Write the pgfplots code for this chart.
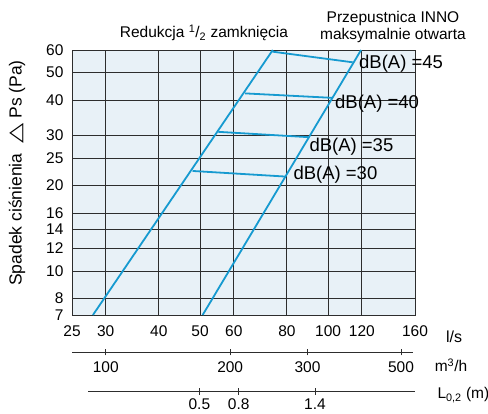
\documentclass[border=0pt]{standalone}
\usepackage{pgfplots}
\pgfplotsset{compat=1.18}
\usepackage{graphicx}
\usepackage{fontspec}
\setmainfont{Liberation Sans}
\newfontfamily\dejavu{DejaVu Sans}
\definecolor{bgblue}{RGB}{232,241,247}
\definecolor{lineblue}{RGB}{22,154,208}
\definecolor{gridc}{RGB}{45,45,45}
\begin{document}
\begin{tikzpicture}[x=1pt,y=1pt]
\path[use as bounding box] (0,0) rectangle (488,414);
\begin{axis}[
  at={(72pt,99pt)}, anchor=south west,
  scale only axis, width=343pt, height=265pt,
  xmode=log, ymode=log,
  xmin=25, xmax=160, ymin=7, ymax=60,
  axis background/.style={fill=bgblue},
  xtick={25,30,40,50,60,80,100,120,160},
  xticklabels={25,30,40,50,60,80,100,120,160},
  ytick={7,8,10,12,14,16,20,25,30,40,50,60},
  yticklabels={7,8,10,12,14,16,20,25,30,40,50,60},
  grid=major,
  major grid style={gridc, line width=0.9pt},
  axis line style={gridc, line width=0.9pt},
  major tick length=0pt,
  minor tick num=0,
  /pgf/number format/assume math mode=true,
  tick label style={font=\fontsize{15.5}{18}\selectfont},
  xticklabel style={yshift=-7pt},
  yticklabel style={xshift=-5pt},
  clip=false,
]
\addplot[lineblue, line width=1.8pt] coordinates {(28.0,7) (74.1,60)};
\addplot[lineblue, line width=1.8pt] coordinates {(50.7,7) (119.5,60)};
\addplot[lineblue, line width=1.8pt] coordinates {(48.0,22.5) (79.5,21.5)};
\addplot[lineblue, line width=1.8pt] coordinates {(55.2,30.9) (89.8,29.6)};
\addplot[lineblue, line width=1.8pt] coordinates {(63.8,42.2) (102.3,40.7)};
\addplot[lineblue, line width=1.8pt] coordinates {(74.0,59.2) (114.2,54.3)};
\end{axis}
% m3/h scale
\begin{axis}[
  at={(72pt,62pt)}, anchor=south west,
  scale only axis, width=341pt, height=1pt,
  xmode=log, xmin=25, xmax=158,
  ymin=0, ymax=1,
  axis x line*=bottom, hide y axis,
  axis line style={gridc, line width=0.9pt, -},
  xtick={30,58.8,89.3,148.1},
  xticklabels={100,200,300,500},
  minor xtick={},
  tick align=center,
  major tick length=6.6pt,
  every tick/.style={gridc, line width=0.9pt},
  /pgf/number format/assume math mode=true,
  tick label style={font=\fontsize{15.5}{18}\selectfont},
  xticklabel style={yshift=-3pt},
]
\end{axis}
% L0.2 scale
\begin{axis}[
  at={(88.3pt,22.3pt)}, anchor=south west,
  scale only axis, width=326.7pt, height=1pt,
  xmode=log, xmin=27.3, xmax=160,
  ymin=0, ymax=1,
  axis x line*=bottom, hide y axis,
  axis line style={gridc, line width=0.9pt, -},
  xtick={49.8,61.6,93.1},
  xticklabels={0.5,0.8,1.4},
  minor xtick={},
  tick align=center,
  major tick length=6.6pt,
  every tick/.style={gridc, line width=0.9pt},
  /pgf/number format/assume math mode=true,
  tick label style={font=\fontsize{15.5}{18}\selectfont},
  xticklabel style={yshift=-0.5pt},
]
\end{axis}
% texts
\node[rotate=90, font=\fontsize{17.5}{20}\selectfont] at (17,241) {Spadek ciśnienia \ \scalebox{1.5}[1.05]{\dejavu △} Ps (Pa)};
\node[font=\fontsize{15.5}{18}\selectfont] at (204,381) {Redukcja \textsuperscript{1}/\textsubscript{2} zamknięcia};
\node[font=\fontsize{15.5}{18}\selectfont, align=center] at (393,387) {Przepustnica INNO\\maksymalnie otwarta};
\node[font=\fontsize{18.5}{20}\selectfont, anchor=base west, inner sep=0pt] at (359,345.7) {dB(A) =45};
\node[font=\fontsize{18.5}{20}\selectfont, anchor=base west, inner sep=0pt] at (335,305.7) {dB(A) =40};
\node[font=\fontsize{18.5}{20}\selectfont, anchor=base west, inner sep=0pt] at (309.3,262.3) {dB(A) =35};
\node[font=\fontsize{18.5}{20}\selectfont, anchor=base west, inner sep=0pt] at (293.3,234.7) {dB(A) =30};
\node[font=\fontsize{16}{19}\selectfont] at (454,77) {l/s};
\node[font=\fontsize{15.5}{18}\selectfont] at (451,49) {m\textsuperscript{3}/h};
\node[font=\fontsize{15.5}{18}\selectfont, anchor=west] at (434,19) {L\textsubscript{0,2} (m)};
\end{tikzpicture}
\end{document}
